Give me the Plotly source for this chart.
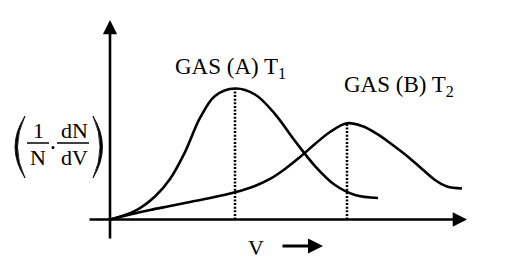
import plotly.graph_objects as go

# ---- data (arbitrary units) ----
V_A = [0, 0.6, 1.2, 1.8, 2.4, 3.0, 3.6, 4.2, 5.0, 5.8, 6.6, 7.4, 8.2, 9.0, 9.8, 10.72]
f_A = [0, 0.34, 0.87, 1.74, 3.07, 5.11, 7.69, 9.36, 9.92, 9.47, 7.99, 5.95, 4.05, 2.61, 1.86, 1.63]
V_B = [0, 0.8, 1.6, 2.4, 3.2, 4.0, 5.0, 5.8, 6.4, 7.0, 7.6, 8.2, 8.8, 9.48, 10.08, 10.68, 11.28,
       11.88, 12.48, 13.0, 13.48, 14.08]
f_B = [0, 0.38, 0.72, 1.02, 1.33, 1.63, 2.06, 2.54, 3.07, 3.83, 4.73, 5.72, 6.63, 7.29, 7.08, 6.48, 5.68,
       4.81, 3.83, 2.99, 2.5, 2.35]
peak_V = [5.0, 9.48]
peak_f = [9.92, 7.29]
labels = ["GAS (A) T<sub>1</sub>", "GAS (B) T<sub>2</sub>"]

W, H = 507, 268
X0PX, Y0PX, SX, SY = 110, 219.5, 25.0, 13.2
xr = [-X0PX / SX, (W - X0PX) / SX]
yr = [-(H - Y0PX) / SY, Y0PX / SY]

FONT = "Liberation Serif"

def px(x):
    return x / W

def py(y):
    return 1 - y / H

fig = go.Figure()
lw = 2.6
fig.add_trace(go.Scatter(x=V_A, y=f_A, mode="lines",
                         line=dict(color="black", width=lw, shape="spline", smoothing=1.0), hoverinfo="skip"))
fig.add_trace(go.Scatter(x=V_B, y=f_B, mode="lines",
                         line=dict(color="black", width=lw, shape="spline", smoothing=1.0), hoverinfo="skip"))
for v, f in zip(peak_V, peak_f):
    fig.add_trace(go.Scatter(x=[v, v], y=[0, f], mode="lines",
                             line=dict(color="black", width=2.5, dash="2px,1.6px"), hoverinfo="skip"))

ann = []
# axes with arrows
ann.append(dict(x=0, y=(Y0PX - 20) / SY, ax=0, ay=-(240 - Y0PX) / SY, xref="x", yref="y", axref="x", ayref="y",
                showarrow=True, arrowhead=2, arrowsize=1.1, arrowwidth=2.6, arrowcolor="black", text=""))
ann.append(dict(x=(467 - X0PX) / SX, y=0, ax=(88 - X0PX) / SX, ay=0, xref="x", yref="y", axref="x", ayref="y",
                showarrow=True, arrowhead=2, arrowsize=1.1, arrowwidth=2.6, arrowcolor="black", text=""))

txt = dict(showarrow=False, xanchor="center", yanchor="middle")
f22 = dict(family=FONT, size=22, color="black")
# curve labels
ann.append(dict(x=4.8, y=11.5, xref="x", yref="y", text=labels[0], font=dict(family=FONT, size=23, color="black"), **txt))
ann.append(dict(x=11.56, y=10.1, xref="x", yref="y", text=labels[1], font=dict(family=FONT, size=23, color="black"), **txt))
# x label
ann.append(dict(x=px(256), y=py(247), xref="paper", yref="paper", text="V", font=f22, **txt))
ann.append(dict(x=px(323), y=py(246), ax=-42, ay=0, xref="paper", yref="paper",
                showarrow=True, arrowhead=2, arrowsize=1, arrowwidth=3, arrowcolor="black", text=""))
# y label pieces
for t, x, y in [("1", 38, 130), ("N", 38, 157), ("dN", 74, 130), ("dV", 74, 157)]:
    ann.append(dict(x=px(x), y=py(y), xref="paper", yref="paper", text=t, font=f22, **txt))

shapes = []
for x1, x2 in [(27, 49), (57, 89)]:
    shapes.append(dict(type="line", xref="paper", yref="paper", x0=px(x1), x1=px(x2), y0=py(143), y1=py(143),
                       line=dict(color="black", width=1.5)))
shapes.append(dict(type="circle", xref="paper", yref="paper", x0=px(51.5), x1=px(54.5), y0=py(146), y1=py(149),
                   fillcolor="black", line=dict(width=0)))

def paren(xe, xo_c, xi_c, top, bot):
    mid = (top + bot) / 2
    return (f"M {px(xe)},{py(top)} Q {px(xo_c)},{py(mid)} {px(xe)},{py(bot)} "
            f"Q {px(xi_c)},{py(mid)} {px(xe)},{py(top)} Z")

shapes.append(dict(type="path", xref="paper", yref="paper", path=paren(25, 5, 10, 116, 178),
                   fillcolor="black", line=dict(color="black", width=0.8)))
shapes.append(dict(type="path", xref="paper", yref="paper", path=paren(93, 112, 107, 116, 178),
                   fillcolor="black", line=dict(color="black", width=0.8)))

fig.update_layout(
    width=W, height=H, autosize=False,
    margin=dict(l=0, r=0, t=0, b=0),
    paper_bgcolor="white", plot_bgcolor="white",
    showlegend=False,
    xaxis=dict(range=xr, visible=False, fixedrange=True),
    yaxis=dict(range=yr, visible=False, fixedrange=True),
    annotations=ann, shapes=shapes,
)
fig.write_html("out.html")
